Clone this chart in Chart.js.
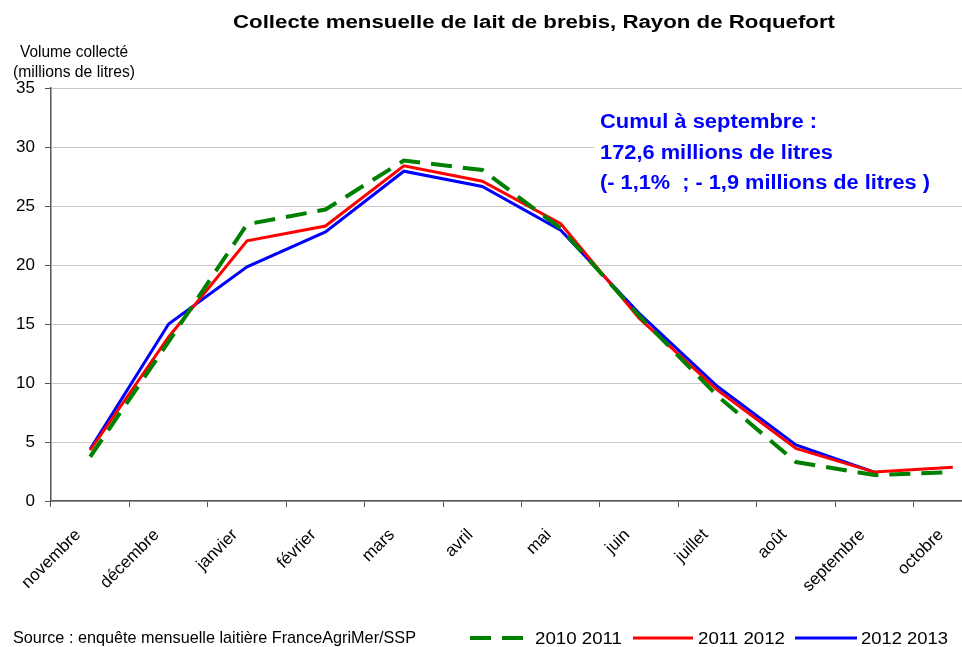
<!DOCTYPE html>
<html>
<head>
<meta charset="utf-8">
<script src="https://cdn.jsdelivr.net/npm/chart.js@4/dist/chart.umd.min.js"></script>
<style>
html,body{margin:0;padding:0;background:#fff;overflow:hidden;width:962px;height:647px;}
#wrap{position:absolute;left:0;top:0;width:1000px;height:647px;}
</style>
</head>
<body>
<div id="wrap"><canvas id="c" width="1000" height="647"></canvas></div>
<script>
const months = ["novembre","décembre","janvier","février","mars","avril","mai","juin","juillet","août","septembre","octobre"];
const s2010_2011 = [3.75, 13.5, 23.45, 24.7, 28.85, 28.05, 23.1, 15.7, 8.9, 3.3, 2.2, 2.45];
const s2011_2012 = [4.3, 13.9, 22.05, 23.3, 28.4, 27.1, 23.5, 15.5, 9.4, 4.45, 2.45, 2.85];
const s2012_2013 = [4.4, 15.0, 19.85, 22.8, 27.95, 26.65, 22.95, 15.9, 9.7, 4.75, 2.45, null];
const seriesNames = ["2010 2011", "2011 2012", "2012 2013"];
const yTicks = [0, 5, 10, 15, 20, 25, 30, 35];
const titleText = "Collecte mensuelle de lait de brebis, Rayon de Roquefort";
const yTitle = ["Volume collecté", "(millions de litres)"];
const noteLines = ["Cumul à septembre :", "172,6 millions de litres", "(- 1,1%  ; - 1,9 millions de litres )"];
const sourceText = "Source : enquête mensuelle laitière FranceAgriMer/SSP";

const FONT = '"Liberation Sans", Arial, sans-serif';

function fitText(ctx, text, x, y, font, color, width, align) {
  ctx.save();
  ctx.font = font;
  ctx.fillStyle = color;
  ctx.textBaseline = 'alphabetic';
  ctx.textAlign = 'left';
  const w = ctx.measureText(text).width;
  const sx = width ? width / w : 1;
  const total = w * sx;
  let x0 = x;
  if (align === 'center') x0 = x - total / 2;
  else if (align === 'right') x0 = x - total;
  ctx.translate(x0, y);
  ctx.scale(sx, 1);
  ctx.fillText(text, 0, 0);
  ctx.restore();
}

const overlay = {
  id: 'overlay',
  beforeDatasetsDraw(chart) {
    const ctx = chart.ctx;
    ctx.save();
    ctx.fillStyle = '#ffffff';
    ctx.fillRect(594, 100, 400, 100);
    ctx.restore();
  },
  afterDraw(chart) {
    const ctx = chart.ctx;
    fitText(ctx, titleText, 534, 28, 'bold 18px ' + FONT, '#000', 602, 'center');
    fitText(ctx, yTitle[0], 20, 57, '16px ' + FONT, '#000', 108, 'left');
    fitText(ctx, yTitle[1], 13, 77, '16px ' + FONT, '#000', 122, 'left');
    const blue = '#0000ff';
    fitText(ctx, noteLines[0], 600, 128, 'bold 20px ' + FONT, blue, 217, 'left');
    fitText(ctx, noteLines[1], 600, 159, 'bold 20px ' + FONT, blue, 233, 'left');
    fitText(ctx, noteLines[2], 600, 189, 'bold 20px ' + FONT, blue, 330, 'left');
    fitText(ctx, sourceText, 13, 643, '17px ' + FONT, '#000', 403, 'left');
    const ds = chart.data.datasets;
    const lx = [[470, 524, 535, 87], [633, 693, 698, 87], [795, 857, 861, 87]];
    for (let i = 0; i < 3; i++) {
      ctx.save();
      ctx.strokeStyle = ds[i].borderColor;
      ctx.lineWidth = ds[i].borderWidth;
      ctx.setLineDash(ds[i].borderDash || []);
      ctx.beginPath();
      ctx.moveTo(lx[i][0], 638);
      ctx.lineTo(lx[i][1], 638);
      ctx.stroke();
      ctx.restore();
      fitText(ctx, seriesNames[i], lx[i][2], 644, '17px ' + FONT, '#000', lx[i][3], 'left');
    }
  }
};

new Chart(document.getElementById('c'), {
  type: 'line',
  data: {
    labels: months,
    datasets: [
      { label: seriesNames[0], data: s2010_2011, borderColor: '#008000', borderWidth: 4, borderDash: [21, 11], pointRadius: 0, tension: 0, fill: false },
      { label: seriesNames[1], data: s2011_2012, borderColor: '#ff0000', borderWidth: 3, pointRadius: 0, tension: 0, fill: false },
      { label: seriesNames[2], data: s2012_2013, borderColor: '#0000ff', borderWidth: 3, pointRadius: 0, tension: 0, fill: false }
    ]
  },
  options: {
    responsive: false,
    animation: false,
    events: [],
    layout: { padding: { left: 0, right: 8, top: 88, bottom: 0 } },
    plugins: { legend: { display: false }, title: { display: false }, tooltip: { enabled: false } },
    scales: {
      x: {
        type: 'category',
        offset: true,
        afterFit(scale) { scale.height = 146; },
        grid: { display: true, drawOnChartArea: false, drawTicks: true, tickLength: 6, offset: true, tickColor: '#555', tickWidth: 1 },
        border: { display: true, color: '#555', width: 1.5 },
        ticks: { color: '#000', font: { family: FONT, size: 17 }, minRotation: 45, maxRotation: 45, padding: 18, labelOffset: -12, autoSkip: false }
      },
      y: {
        min: 0, max: 35,
        afterFit(scale) { scale.width = 51; },
        afterBuildTicks(scale) { scale.ticks = yTicks.map(v => ({ value: v })); },
        grid: { color: '#c8c8c8', lineWidth: 1, drawTicks: true, tickLength: 6, tickColor: '#555', tickWidth: 1 },
        border: { display: true, color: '#555', width: 1.5 },
        ticks: { color: '#000', font: { family: FONT, size: 17 }, padding: 10 }
      }
    }
  },
  plugins: [overlay]
});
</script>
</body>
</html>
